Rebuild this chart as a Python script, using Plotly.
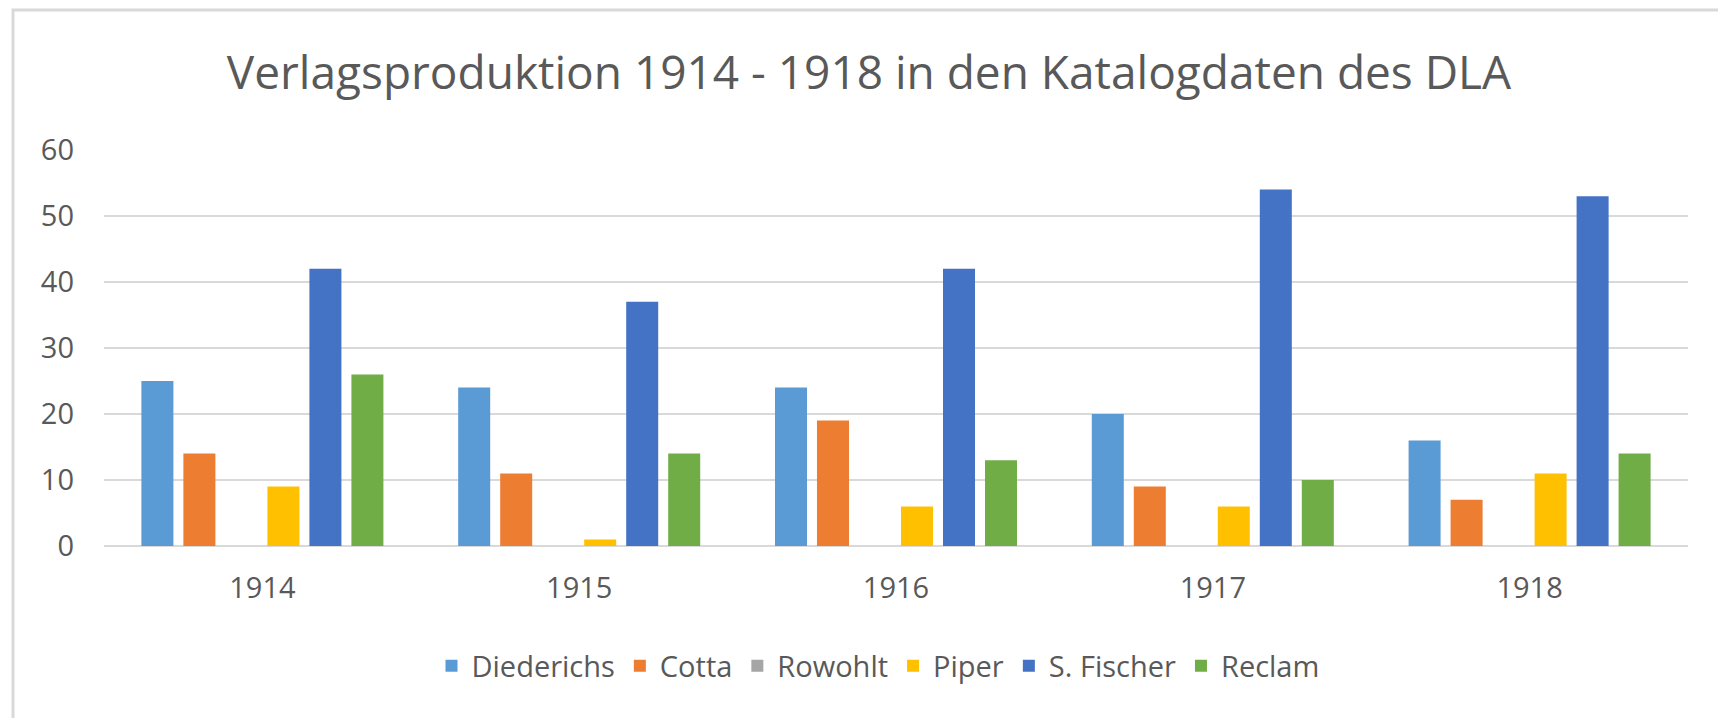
import plotly.graph_objects as go

years = ["1914", "1915", "1916", "1917", "1918"]
diederichs = [25, 24, 24, 20, 16]
cotta = [14, 11, 19, 9, 7]
rowohlt = [0, 0, 0, 0, 0]
piper = [9, 1, 6, 6, 11]
fischer = [42, 37, 42, 54, 53]
reclam = [26, 14, 13, 10, 14]

series_names = ["Diederichs", "Cotta", "Rowohlt", "Piper", "S. Fischer", "Reclam"]
series_values = [diederichs, cotta, rowohlt, piper, fischer, reclam]
colors = ["#5B9BD5", "#ED7D31", "#A5A5A5", "#FFC000", "#4472C4", "#70AD47"]

title_text = "Verlagsproduktion 1914 - 1918 in den Katalogdaten des DLA"
y_ticks = [0, 10, 20, 30, 40, 50, 60]

W, H = 1718, 718
L, R, T, B = 104, 30, 150, 172
pw, ph = W - L - R, H - T - B

fig = go.Figure()
for name, vals, col in zip(series_names, series_values, colors):
    fig.add_trace(go.Bar(
        x=years, y=vals, name=name,
        marker=dict(color=col, line=dict(width=0)),
        hoverinfo="skip",
    ))

text_col = "#595959"
font_family = "Open Sans, Noto Sans, sans-serif"

# frame (left and top borders of chart area)
fx0 = (13 - L) / pw
fy1 = (H - B - 10) / ph

fig.update_layout(
    width=W, height=H,
    template="none",
    paper_bgcolor="white", plot_bgcolor="white",
    margin=dict(l=L, r=R, t=T, b=B, pad=0),
    barmode="group",
    bargap=0.2045,
    bargroupgap=0.238,
    font=dict(family=font_family, color=text_col),
    title=dict(
        text=title_text,
        x=869 / W, xanchor="center", xref="container",
        y=1 - 73 / H, yanchor="middle", yref="container",
        font=dict(size=46, color=text_col, family=font_family),
    ),
    xaxis=dict(
        showgrid=False, zeroline=False, showline=False, ticks="",
        tickfont=dict(size=29, color=text_col),
        ticklabelstandoff=22,
    ),
    yaxis=dict(
        range=[0, 60], tickvals=y_ticks, showgrid=True,
        gridcolor="#D9D9D9", gridwidth=2,
        zeroline=True, zerolinecolor="#D9D9D9", zerolinewidth=2,
        showline=False, ticks="",
        tickfont=dict(size=29, color=text_col),
        ticklabelstandoff=29,
    ),
    legend=dict(
        orientation="h", x=878 / W, xanchor="center",
        xref="container",
        y=1 - 666 / H, yanchor="middle", yref="container",
        font=dict(size=29, color=text_col),
        itemclick=False, itemdoubleclick=False,
        bgcolor="rgba(0,0,0,0)",
    ),
    shapes=[dict(
        type="rect", xref="paper", yref="paper",
        x0=fx0, x1=2.0, y0=-2.0, y1=fy1,
        line=dict(color="#D9D9D9", width=3),
        fillcolor="rgba(0,0,0,0)", layer="below",
    )],
    showlegend=True,
)

fig.write_html(
    "out.html",
    config={"displayModeBar": False},
    post_script="document.body.style.margin='0';document.body.style.overflow='hidden';",
)
